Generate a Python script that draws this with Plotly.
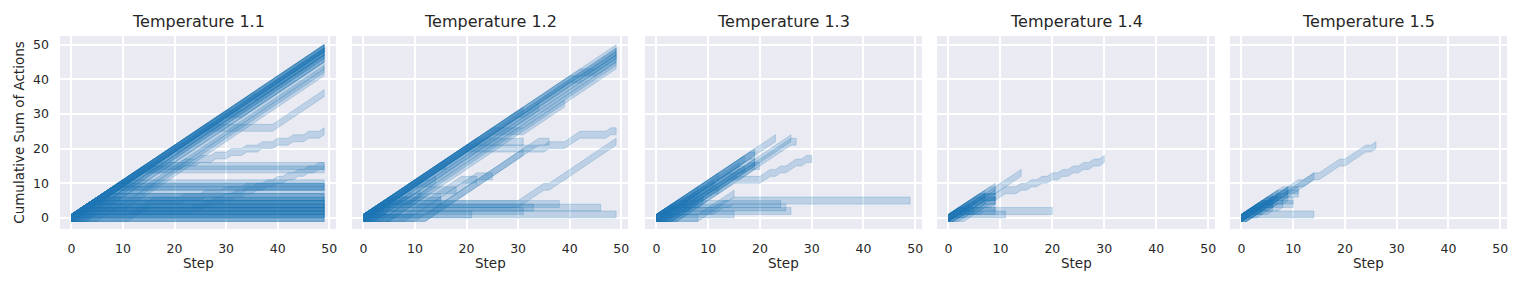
import plotly.graph_objects as go

# ---------------- data ----------------
temperatures = ["1.1", "1.2", "1.3", "1.4", "1.5"]
panel_titles = ["Temperature " + t for t in temperatures]
x_ticks = [0, 10, 20, 30, 40, 50]
y_ticks = [0, 10, 20, 30, 40, 50]
x_label = "Step"
y_label = "Cumulative Sum of Actions"

# Each trajectory: run-length coded actions
# "U n" = n steps with action 1, "F n" = n steps with action 0 ; cumulative sum starts at 0
traj_t11 = [
    "U49", "U49", "U49", "U49", "U49",
    "F1 U48", "F1 U48", "U20 F1 U28", "U35 F1 U13",
    "F2 U47", "U10 F2 U37", "F3 U46", "U5 F3 U41", "U30 F3 U16",
    "U5 F5 U39", "U3 F7 U39", "U8 F6 U35",
    "U26 F13 U10",
    "U14 F4 U1 F2 U1 F2 U1 F2 U1 F2 U1 F2 U1 F2 U1 F2 U1 F2 U1 F2 U1 F2 U1",
    "U15 F34", "U14 F35",
    "U2 F21 U1 F1 U1 F1 U1 F1 U1 F1 U1 F1 U1 F1 U1 F1 U1 F1 U1 F1 U1 F1 U1 F1 U1 F1 U1 F1",
    "U10 F39", "U9 F40", "U9 F40", "U8 F41",
    "F11 U5 F5 U1 F3 U1 F3 U1 F3 U1 F3 F12",
    "F49", "F49", "F49",
    "U1 F48", "U1 F48", "U1 F48",
    "U2 F47", "U2 F47", "U2 F47",
    "U3 F46", "U3 F46", "U3 F46",
    "U4 F45", "U4 F45", "U4 F45",
    "U5 F44", "U5 F44", "U6 F43", "U6 F43",
    "F3 U2 F44", "F5 U4 F40", "F2 U6 F41",
]
traj_t12 = [
    "U49", "F1 U48", "U30 F1 U18", "F2 U47", "U40 F2 U7",
    "U10 F3 U36", "U42 F3 U4", "U5 F4 U40", "F5 U44",
    "U31", "F2 U32", "U25 F6 U8", "U22",
    "U20 F15 U1 F3 U3 F5 U1 F1",
    "U22 F9",
    "U4 F26 U5 F1 U13",
    "F5 U8 F5", "F8 U11 F3", "F10 U12 F3", "F12 U19", "F12 U22 F2",
    "U4 F34", "U3 F43", "U1 F48", "U2 F29", "U3 F30", "U1 F20",
    "U5 F10", "F3 U6 F6", "U15 F1",
    "U3", "F1 U3", "U4 F1", "F2 U3", "U2 F2",
    "U2 F1 U3 F1 U3 F1 U3", "F1 U1 F1 U2 F1 U2 F1 U2",
]
traj_t13 = [
    "U23", "F3 U23", "F4 U22 F1",
    "F4 U11 F5 U2 F1 U1 F1 U2 F1 U1 F1",
    "F3 U15 F1",
    "U2 F9 U2 F1 U1 F34",
    "U4 F20", "U3 F22", "U1 F1 U1 F23", "U1 F14", "F8 U7",
    "U17", "F1 U15", "F2 U14 F1", "U12", "F1 U10", "U8", "F3 U6",
    "U19", "U18 F1", "F2 U16 F1",
    "U3 F1 U3 F1 U3 F1 U3 F1 U3 F1", "U4 F1 U4 F1 U4 F1 U4",
    "U2 F1 U2 F1 U2 F1 U2 F1", "U1 F1 U1 F1 U1 F1 U1 F1 U1",
    "U3", "F1 U2", "U1 F2", "F2 U4", "F8", "U5 F3",
]
traj_t14 = [
    "F1 U13",
    "U6 F3 U2 F2 U1 F1 U1 F1 U1 F1 U1 F1 U1 F1 U1 F1 U1 F1 U1 F1 U1",
    "U2 F18", "U1 F10",
    "U8 F1", "U5 F4", "F3 U5 F1", "U2 F7", "U9",
    "U6 F1", "F2 U5", "U4", "F1 U3", "U2 F3", "U7", "F1 U6 F2",
    "U1 F1 U1 F1 U1 F1 U1 F1 U1", "U2 F1 U2 F1 U2 F1", "U1 F2 U1 F2 U1 F2",
    "U3 F1 U3 F1 U1",
]
traj_t15 = [
    "U4 F1 U4 F1 U4 F1 U4 F1 U4 F1 U1",
    "U5 F1 U5 F1 U2",
    "U1 F13",
    "U3 F1 U3 F1 U2 F1",
    "U2 F1 U2 F1 U1 F3",
    "U6", "U5 F1", "F1 U4 F1", "U4", "U3 F1", "U2 F2", "F1 U2",
    "U7", "U4 F1 U4", "U3 F1 U3 F1 U1", "F1 U5 F1", "U8 F1", "U7 F4", "U4 F6",
    "U1 F1 U1 F1 U1 F1", "U2 F1 U1 F1 U1", "F1 U1 F1 U1 F1 U1 F1 U1",
    "U1 F1 U2 F1 U2 F1 U1",
]
panel_trajs = [traj_t11, traj_t12, traj_t13, traj_t14, traj_t15]

# ---------------- styling ----------------
BAND = 1.0
FILL = "rgba(31,119,180,0.22)"
EDGE = "rgba(31,119,180,0.35)"
TXT = "#262626"
FONT = "DejaVu Sans"

W, H = 1522, 286
ML, MR, MT, MB = 60, 15, 36, 57
panel_px = [(60, 336), (352, 628), (645, 922), (937, 1215), (1230, 1507)]
plot_w = W - ML - MR


def parse(code):
    ys = [0]
    for tok in code.split():
        inc = 1 if tok[0] == "U" else 0
        for _ in range(int(tok[1:])):
            ys.append(ys[-1] + inc)
    return ys


fig = go.Figure()
for i, trajs in enumerate(panel_trajs):
    ax = "" if i == 0 else str(i + 1)
    for code in trajs:
        ys = parse(code)
        xs = list(range(len(ys)))
        px = xs + xs[::-1]
        py = [y + BAND for y in ys] + [y - BAND for y in ys[::-1]]
        fig.add_trace(go.Scatter(
            x=px, y=py, mode="lines", fill="toself", fillcolor=FILL,
            line=dict(color=EDGE, width=0.6), hoverinfo="skip",
            showlegend=False, xaxis="x" + ax, yaxis="y" + ax))

layout = dict(
    width=W, height=H, margin=dict(l=ML, r=MR, t=MT, b=MB, autoexpand=False),
    paper_bgcolor="white", plot_bgcolor="#EAEAF2",
    font=dict(family=FONT, color=TXT, size=12.5),
    showlegend=False, annotations=[],
)
for i in range(5):
    ax = "" if i == 0 else str(i + 1)
    d0 = (panel_px[i][0] - ML) / plot_w
    d1 = (panel_px[i][1] - ML) / plot_w
    layout["xaxis" + ax] = dict(
        domain=[d0, d1], range=[-2.2, 51.3], tickvals=x_ticks,
        showgrid=True, gridcolor="white", gridwidth=1.6, zeroline=False,
        showline=False, ticks="", ticklabelstandoff=10, automargin=False,
        tickfont=dict(size=12.5, color=TXT),
        anchor="y" + ax,
    )
    ydict = dict(
        domain=[0, 1], range=[-3.2, 52.5], tickvals=y_ticks,
        showgrid=True, gridcolor="white", gridwidth=1.6, zeroline=False,
        showline=False, ticks="", anchor="x" + ax, automargin=False,
        tickfont=dict(size=12.5, color=TXT),
    )
    if i == 0:
        ydict.update(ticklabelstandoff=10,
                     title=dict(text=y_label, font=dict(size=13.5, color=TXT), standoff=5))
    else:
        ydict.update(showticklabels=False, matches="y")
    layout["yaxis" + ax] = ydict
    layout["annotations"].append(dict(
        text=panel_titles[i], xref="paper", yref="paper",
        x=(d0 + d1) / 2, y=1, xanchor="center", yanchor="bottom", yshift=3,
        showarrow=False, font=dict(size=16, color=TXT)))
    layout["annotations"].append(dict(
        text=x_label, xref="paper", yref="paper",
        x=(d0 + d1) / 2, y=0, xanchor="center", yanchor="middle", yshift=-34,
        showarrow=False, font=dict(size=13.5, color=TXT)))

fig.update_layout(**layout)
fig.write_html("out.html", config={"displayModeBar": False},
               post_script="document.body.style.margin='0';")
